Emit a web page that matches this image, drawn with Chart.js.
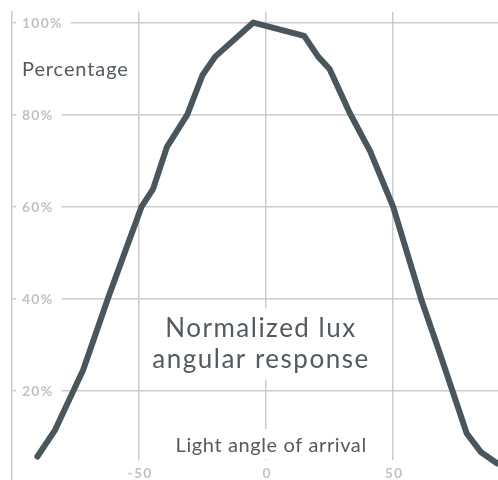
<!DOCTYPE html>
<html>
<head>
<meta charset="utf-8">
<script src="https://cdn.jsdelivr.net/npm/chart.js@4/dist/chart.umd.min.js"></script>
<style>
  body { margin: 0; background: #fff; }
  #wrap { width: 498px; height: 480px; position: relative; }
</style>
</head>
<body>
<div id="wrap"><canvas id="chart-angular"></canvas></div>
<script>
// ==================================================
// DATA
// ==================================================
const angles = [-90, -83, -72, -62, -49, -44.5, -39, -31, -25, -20, -5, 15, 20.5, 25, 33, 41, 50, 61, 68, 79, 84.5, 91];
const response = [5.7, 11.5, 24.5, 40.4, 60, 63.8, 73, 80, 88.6, 92.6, 100, 97.1, 92.6, 89.9, 80.3, 72, 60, 40, 28.8, 10.7, 6.7, 4.2];

const xTicks = [-50, 0, 50];
const yTicks = [20, 40, 60, 80, 100];

const yTitle = "Percentage";
const xTitle = "Light angle of arrival";
const chartTitle = ["Normalized lux", "angular response"];

const gridColor = "#cbcbcb";
const tickColor = "#c2c2c2";
const textColor = "#545b60";

// ==================================================
// LABEL PLUGIN (ticks + titles drawn inside the plot)
// ==================================================
const insideLabels = {
  id: "insideLabels",
  beforeDatasetsDraw(chart) {
    const { ctx, scales } = chart;
    const x = scales.x;
    const y = scales.y;
    ctx.save();

    // y tick labels, left aligned with white backdrop over the grid
    ctx.font = "bold 14px Lato";
    ctx.letterSpacing = "1.2px";
    ctx.textBaseline = "middle";
    ctx.textAlign = "left";
    yTicks.forEach((v) => {
      const py = y.getPixelForValue(v);
      const label = v + "%";
      const w = ctx.measureText(label).width;
      ctx.fillStyle = "#fff";
      ctx.fillRect(16, py - 4, w + 14, 8);
      ctx.fillStyle = tickColor;
      ctx.fillText(label, 22, py + 1);
    });

    // x tick labels at the bottom
    ctx.textAlign = "center";
    xTicks.forEach((v) => {
      const px = x.getPixelForValue(v);
      ctx.fillStyle = "#fff";
      ctx.fillRect(px - 4, 460, 8, 20);
      ctx.fillStyle = tickColor;
      ctx.fillText(String(v), px + 1, 473);
    });

    // y title
    ctx.textAlign = "left";
    ctx.font = "20px Lato";
    ctx.letterSpacing = "0.9px";
    ctx.fillStyle = textColor;
    ctx.fillText(yTitle, 22, 70);

    // chart title box
    const cx = x.getPixelForValue(-2);
    ctx.fillStyle = "#fff";
    ctx.fillRect(cx - 106, 308, 212, 72);
    ctx.font = "26px Lato";
    ctx.letterSpacing = "1.5px";
    ctx.textAlign = "center";
    ctx.fillStyle = textColor;
    ctx.fillText(chartTitle[0], cx, 329);
    ctx.fillText(chartTitle[1], cx, 360);

    // x title box
    const tx = x.getPixelForValue(2);
    ctx.fillStyle = "#fff";
    ctx.fillRect(tx - 98, 429, 196, 30);
    ctx.font = "20px Lato";
    ctx.letterSpacing = "0.6px";
    ctx.fillStyle = textColor;
    ctx.fillText(xTitle, tx, 446);

    ctx.restore();
  },
};

// ==================================================
// CHART
// ==================================================
const ctx = document.getElementById("chart-angular").getContext("2d");

new Chart(ctx, {
  type: "line",
  data: {
    datasets: [
      {
        data: angles.map((a, i) => ({ x: a, y: response[i] })),
        borderColor: "#4a565e",
        borderWidth: 6,
        pointRadius: 0,
        fill: false,
        tension: 0,
        borderCapStyle: "round",
        borderJoinStyle: "round",
      },
    ],
  },
  options: {
    responsive: true,
    maintainAspectRatio: false,
    animation: false,
    layout: { padding: { left: 12, top: 12, right: 0, bottom: 0 } },
    plugins: { legend: { display: false }, tooltip: { enabled: false } },
    scales: {
      x: {
        type: "linear",
        min: -100,
        max: 91.3,
        afterBuildTicks: (scale) => {
          scale.ticks = xTicks.map((v) => ({ value: v }));
        },
        ticks: { display: false },
        grid: { color: gridColor, lineWidth: 1.5, drawTicks: false },
        border: { display: false },
      },
      y: {
        min: 0.6,
        max: 102.3,
        afterBuildTicks: (scale) => {
          scale.ticks = yTicks.map((v) => ({ value: v }));
        },
        ticks: { display: false },
        grid: { color: gridColor, lineWidth: 1.5, drawTicks: false },
        border: { display: true, color: gridColor, width: 1.5 },
      },
    },
  },
  plugins: [insideLabels],
});
</script>
</body>
</html>
